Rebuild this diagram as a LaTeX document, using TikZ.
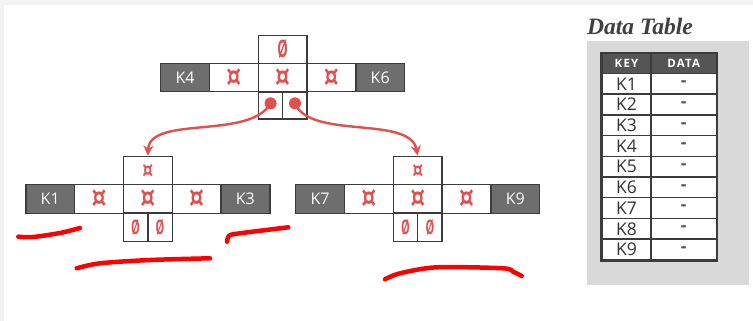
\documentclass[tikz,border=0pt]{standalone}
\usepackage{fontspec}
\setmainfont{Open Sans}
\newfontfamily\titlefont{Liberation Serif}
\newfontfamily\symfont{DejaVu Sans}
\usetikzlibrary{arrows.meta}

\definecolor{stripgray}{HTML}{F3F3F3}
\definecolor{keyfill}{HTML}{6E6E6E}
\definecolor{edgegray}{HTML}{3C3C3C}
\definecolor{ptrred}{HTML}{E0504F}
\definecolor{inkred}{HTML}{FF0000}
\definecolor{panelgray}{HTML}{D9D9D9}
\definecolor{headfill}{HTML}{555555}
\definecolor{titlegray}{HTML}{404040}
\definecolor{bodytext}{HTML}{333333}

\newcommand\cur{{\symfont\bfseries\scalebox{0.9}[1.15]{¤}}}
\newcommand\nil{{\bfseries\scalebox{0.55}[1]{Ø}}}

\tikzset{
  cell/.style={draw=edgegray, line width=1.4pt, fill=white, minimum width=48.8pt,
    minimum height=28.5pt, inner sep=0pt, text=ptrred, font=\fontsize{26}{26}\selectfont},
  keycell/.style={cell, fill=keyfill, text=white, font=\fontsize{16}{16}\selectfont},
  smallcell/.style={cell, font=\fontsize{19}{19}\selectfont},
  halfcell/.style={cell, minimum width=24.4pt, font=\fontsize{20}{20}\selectfont},
  dot/.style={circle, fill=ptrred, minimum size=12pt, inner sep=0pt},
  ptr/.style={draw=ptrred, line width=2.4pt, -{Stealth[length=10pt,width=10pt]}},
  scribble/.style={draw=inkred, line width=4.5pt, line cap=round, line join=round},
  tabcell/.style={draw=edgegray, line width=1.4pt, fill=white, minimum height=20.7pt,
    inner sep=0pt, text=bodytext, font=\fontsize{17.5}{17.5}\selectfont},
  headcell/.style={tabcell, fill=headfill, minimum height=20.2pt, text=white,
    font=\fontsize{11.5}{11.5}\selectfont\bfseries\addfontfeature{LetterSpace=10}},
}

% one B+tree node: #1 name prefix, #2 left x, #3 row centre y, #4 left key, #5 right key
\newcommand\treerow[5]{%
  \node[keycell] (#1k1) at ({#2+24.4},#3) {#4};
  \node[cell]    (#1p1) at ({#2+73.2},#3) {\cur};
  \node[cell]    (#1mid) at ({#2+122},#3) {\cur};
  \node[cell]    (#1p2) at ({#2+170.8},#3) {\cur};
  \node[keycell] (#1k2) at ({#2+219.6},#3) {#5};
}

\begin{document}
\begin{tikzpicture}[x=1pt,y=-1pt]
  % page and frame
  \fill[stripgray] (0,0) rectangle (753,321);
  \fill[white] (4,5) rectangle (753,321);
  \useasboundingbox (0,0) rectangle (753,321);

  % root node
  \treerow{r}{160.6}{77.5}{K4}{K6}
  \node[cell, minimum height=28pt, font=\fontsize{24}{24}\selectfont] (rtop) at (282.6,49.3) {\nil};
  \node[halfcell, minimum height=27pt] (rb1) at (270.4,105.5) {};
  \node[halfcell, minimum height=27pt] (rb2) at (294.8,105.5) {};
  \node[dot] (dl) at (270.6,103.3) {};
  \node[dot] (dr) at (295,103.3) {};

  % left child
  \treerow{a}{25.8}{199}{K1}{K3}
  \node[smallcell] (atop) at (147.8,170.5) {\cur};
  \node[halfcell] (ab1) at (135.6,227.4) {\nil};
  \node[halfcell] (ab2) at (160,227.4) {\nil};

  % right child
  \treerow{b}{295.7}{199}{K7}{K9}
  \node[smallcell] (btop) at (417.7,170.5) {\cur};
  \node[halfcell] (bb1) at (405.5,227.4) {\nil};
  \node[halfcell] (bb2) at (429.9,227.4) {\nil};

  % child pointers
  \draw[ptr] (dl.center) .. controls (250,140) and (150,115) .. (atop.north);
  \draw[ptr] (dr.center) .. controls (310,140) and (410,115) .. (btop.north);

  % hand-drawn underlines
  \draw[scribble] plot[smooth] coordinates {(18.3,236.7) (33,237) (60,233) (80,228)};
  \draw[scribble] plot[smooth] coordinates {(227,241.7) (229.3,235.5) (240,233.3) (288.3,227.3)};
  \draw[scribble] plot[smooth] coordinates {(76.7,268.3) (100,263.3) (150,260) (210,258.3)};
  \draw[scribble] plot[smooth] coordinates {(385,279.3) (400,273.3) (436.7,267.3) (503,268.3) (513,271.7) (521.7,276)};

  % data table
  \node[anchor=base west, text=titlegray, inner sep=0pt,
        font=\titlefont\bfseries\itshape\fontsize{23.5}{23.5}\selectfont] (title) at (587,35) {Data Table};
  \fill[panelgray] (587,41) rectangle (749,285);
  \node[headcell, minimum width=49pt]   (hkey)  at (626.5,63.4) {KEY};
  \node[headcell, minimum width=65.5pt] (hdata) at (683.75,63.4) {DATA};
  \foreach \i in {1,...,9} {
    \node[tabcell, minimum width=49pt]   (key\i)  at (626.5,{73.5+20.7*(\i-0.5)}) {K\i};
    \node[tabcell, minimum width=65.5pt] (data\i) at (683.75,{73.5+20.7*(\i-0.5)}) {\textcolor{headfill}{\bfseries -}};
  }
  \draw[edgegray, line width=2pt] (hkey.north west) rectangle (data9.south east);
\end{tikzpicture}
\end{document}
